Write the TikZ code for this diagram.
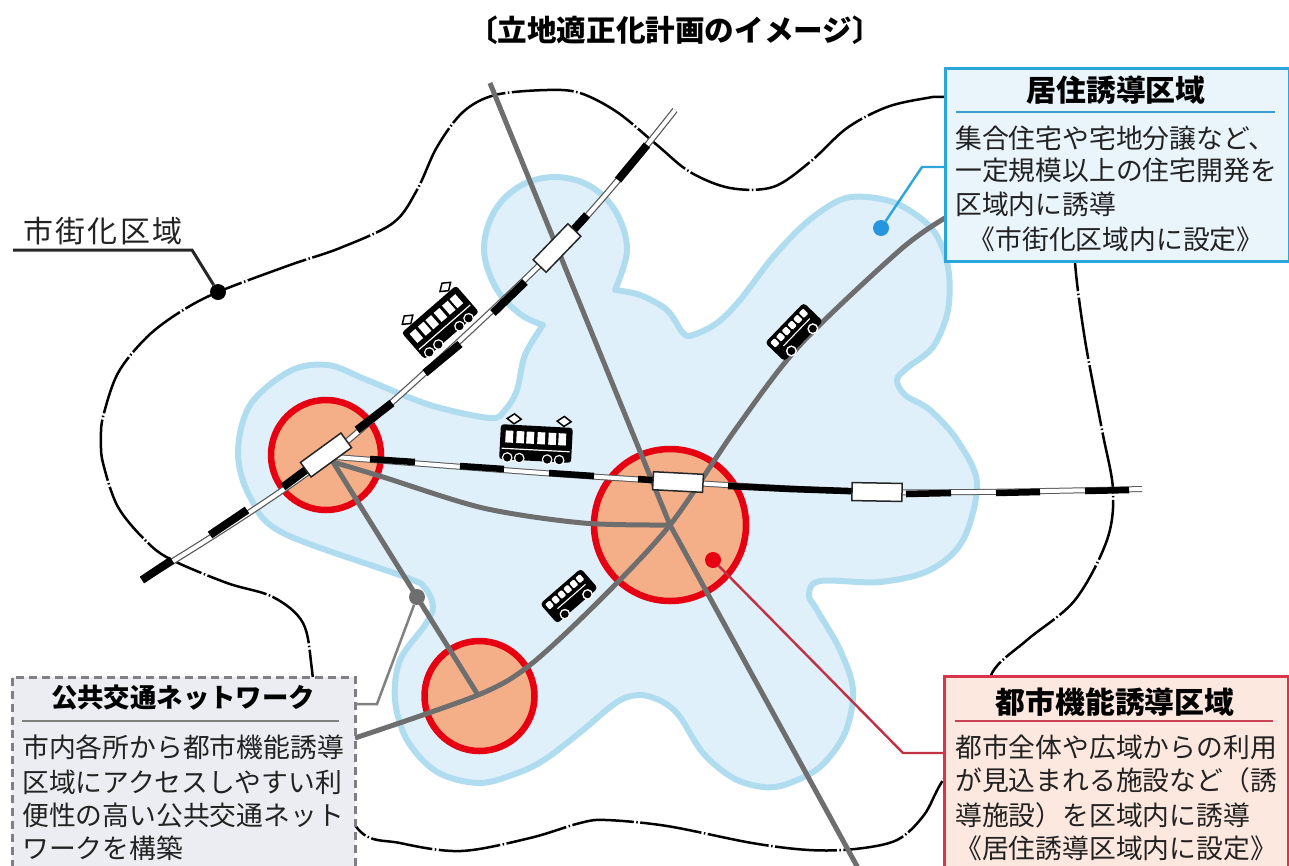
\documentclass[tikz,border=0pt]{standalone}
\usepackage{fontspec}
\newfontfamily\jp{Noto Sans CJK JP}
\usetikzlibrary{calc}
\definecolor{zonefill}{HTML}{DFF0FA}
\definecolor{zoneline}{HTML}{B0DCF0}
\definecolor{corefill}{HTML}{F4AE88}
\definecolor{corered}{HTML}{E60012}
\definecolor{busgray}{HTML}{6E6E6E}
\definecolor{ink}{HTML}{222222}
\definecolor{bluebd}{HTML}{2BA6DA}
\definecolor{bluebg}{HTML}{E9F4FB}
\definecolor{redbd}{HTML}{D9344A}
\definecolor{redbg}{HTML}{FCE8DF}
\definecolor{graybg}{HTML}{ECEDF2}
\tikzset{
  x=1pt,y=-1pt,
  outline/.style={draw=black,line width=2.5pt,dash pattern=on 62pt off 2.5pt on 1.5pt off 2.5pt},
  zone/.style={draw=zoneline,fill=zonefill,line width=6pt,line join=round},
  core/.style={circle,draw=corered,fill=corefill,line width=6.5pt,inner sep=0pt},
  busline/.style={draw=busgray,line width=5pt,line join=round},
  railout/.style={draw=black!65,line width=6.5pt},
  railin/.style={draw=white,line width=4pt},
  railblk/.style={draw=black,line width=8pt},
  railblkb/.style={draw=black,line width=6.5pt},
  stn/.style={draw=black!85,fill=white,line width=1.5pt,minimum width=50pt,minimum height=18pt,inner sep=0pt},
  dotmark/.style={circle,inner sep=0pt,minimum size=16pt},
  infobox/.style={line width=2.5pt,inner sep=0pt,minimum width=#1,anchor=north west},
  headtxt/.style={font=\jp\bfseries\fontsize{29.8}{32}\selectfont,text=black,inner sep=0pt},
  bodytxt/.style={font=\jp\fontsize{26.8}{30}\selectfont,text=ink,inner sep=0pt,anchor=west},
  bodymid/.style={font=\jp\fontsize{26.8}{30}\selectfont,text=ink,inner sep=0pt},
  tram/.pic={
    \fill[black,rounded corners=3pt] (-36,-17) rectangle (36,18);
    \foreach \wx in {-27,-16,-6,5,16,26}{\fill[white] (\wx-3.8,-11) rectangle (\wx+3.8,1);}
    \draw[white,line width=1.2pt] (-34,7) -- (34,7);
    \foreach \wx in {-28,-16,12,24}{\fill[white] (\wx,16) circle (5.4pt);\fill[black] (\wx,16) circle (4pt);}
    \foreach \wx in {-23,27}{\draw[black,fill=white,line width=1.5pt] (\wx-7,-23) -- (\wx,-28) -- (\wx+7,-23) -- (\wx,-18) -- cycle;}
  },
  bus/.pic={
    \fill[black,rounded corners=3.5pt] (-27,-13) rectangle (27,13);
    \foreach \wx in {-20.5,-12.5,-4.5,3.5,11.5,19.5}{\fill[white,rounded corners=1pt] (\wx-3,-9.5) rectangle (\wx+3,-2.5);}
    \draw[white,line width=1.1pt] (-17,2) -- (20,2);
    \foreach \wx in {-15,15}{\fill[white] (\wx,11) circle (5.4pt);\fill[black] (\wx,11) circle (3.8pt);}
  }
}
\begin{document}
\begin{tikzpicture}
\useasboundingbox (0,0) rectangle (1289,865);
\clip (0,0) rectangle (1289,865);
\fill[white] (0,0) rectangle (1289,865);

% city-area outline
\draw[outline] plot[smooth cycle,tension=.55] coordinates {(945,97) (927,98) (887,107) (847,128) (810,162) (773,187) (730,188) (690,172) (657,145) (617,112) (580,93) (547,90) (495,95) (463,112) (437,147) (417,190) (393,223) (340,248) (290,265) (218,292) (180,312) (147,337) (118,373) (103,417) (101,440) (103,463) (118,507) (147,542) (172,560) (227,583) (273,597) (303,623) (312,670) (320,750) (358,829) (400,843) (461,851) (530,838) (580,823) (606,820) (667,826) (752,843) (809,850) (855,849) (897,840) (924,815) (943,780) (985,720) (992,673) (1027,640) (1075,600) (1107,540) (1113,490) (1102,430) (1085,340) (1075,262) (1075,200) (1020,100)};

% residential zone
\draw[zone] plot[smooth,tension=.6] coordinates {(543,325) (520,314) (496,288) (484,250) (494,212) (520,186) (555,177) (590,186) (616,212) (627,250) (615,290)}
  -- plot[smooth,tension=.55] coordinates {(615,290) (640,295) (667,310) (683,333) (693,335) (717,323) (740,300) (773,257) (807,222) (840,200) (867,197) (900,205) (933,230) (948,267) (948,310) (933,347) (907,368) (897,380) (905,395) (930,410) (957,440) (977,483) (963,540) (930,570) (880,582) (820,581) (809,595) (817,610) (840,650) (853,690) (845,733) (820,767) (787,784) (763,787) (733,778) (703,753) (680,717) (663,702) (640,695) (617,702) (583,730) (547,758) (520,772) (480,783) (437,772) (407,740) (395,700) (400,660) (425,625) (433,607) (425,588) (405,577) (283,533) (250,497) (238,453) (250,405) (290,371) (328,365) (367,380) (430,405) (490,418) (505,410) (517,390) (525,355) (543,325)} -- cycle;

% core zones
\node[core,minimum size=110pt] (c1) at (326,455) {};
\node[core,minimum size=152pt] (c2) at (670,525) {};
\node[core,minimum size=110pt] (c3) at (479.5,696) {};

% bus network
\coordinate (hub) at (670,525);
\coordinate (hubw) at (333,462);
\coordinate (north) at (490,83);
\coordinate (south) at (858,868);
\coordinate (ghub) at (478,695);
\draw[busline] (north) -- (hub) -- (south);
\draw[busline] plot[smooth,tension=.5] coordinates {(945,218) (900,250) (800,345) (735,430) (670,525) (600,600) (530,665) (478,695) (355,738)};
\draw[busline] plot[smooth,tension=.5] coordinates {(333,462) (383,477) (483,508) (583,523) (670,525)};
\draw[busline] (hubw) -- (ghub);

% railway lines
\draw[railout] plot[smooth,tension=.5] coordinates {(142,580) (328,457) (557,248) (675,110)};
\draw[railin] plot[smooth,tension=.5] coordinates {(142,580) (328,457) (557,248) (675,110)};
\draw[railblk] (142,580) -- (172,560);
\draw[railblk] (210,535) -- (247,510);
\draw[railblk] (283,487) -- (326,455);
\draw[railblk] (357,430) -- (392,403);
\draw[railblk] (425,373) -- (460,344);
\draw[railblk] (493,313) -- (525,282);
\draw[railblk] (557,248) -- (587,215);
\draw[railblk] (618,180) -- (647,145);
\draw[railout,line width=6pt] plot[smooth,tension=.5] coordinates {(335,457) (600,477) (877,492) (1142,489)};
\draw[railin] plot[smooth,tension=.5] coordinates {(335,457) (600,477) (877,492) (1142,489)};
\draw[railblkb] (370,459) -- (415,462);
\draw[railblkb] (460,466) -- (504,469);
\draw[railblkb] (549,473) -- (594,476);
\draw[railblkb] (638,479) -- (678,482);
\draw[railblkb] (728,486) -- (790,489) -- (877,492);
\draw[railblkb] (906,494) -- (951,493);
\draw[railblkb] (996,493) -- (1040,492);
\draw[railblkb] (1085,491) -- (1129,490);

% stations
\node[stn,rotate=36] (s1) at (326,455) {};
\node[stn,rotate=46] (s2) at (557,248) {};
\node[stn,rotate=-3] (s3) at (678,482) {};
\node[stn,rotate=-1] (s4) at (877,492) {};

% vehicles
\pic[rotate=-3] at (536,443) {tram};
\pic[rotate=41] at (440,322) {tram};
\pic[rotate=46,scale=1.03] at (794,332) {bus};
\pic[rotate=41] at (569,596) {bus};

% markers
\node[dotmark,fill=black] (dcity) at (218,292) {};
\node[dotmark,fill=busgray] (dbus) at (417,597) {};
\node[dotmark,fill=bluebd!90!blue] (dres) at (881,228) {};
\node[dotmark,fill=corered] (dcore) at (713,560) {};

% boxes
\node[infobox=344pt,draw=bluebd,fill=bluebg,minimum height=193pt] (bluebox) at (944,67) {};
\node[infobox=344pt,draw=redbd,fill=redbg,minimum height=210pt] (redbox) at (943,675) {};
\node[infobox=343pt,draw=gray,fill=graybg,minimum height=210pt,dash pattern=on 8pt off 5pt] (graybox) at (11,676) {};

% leaders
\coordinate (elbres) at (922,167);
\coordinate (elbcore) at (903,753);
\coordinate (elbbus) at (377,704);
\coordinate (cityL) at (13,250);
\coordinate (cityR) at (192,250);
\draw[bluebd,line width=2.4pt] (dres) -- (elbres) -- (bluebox.west |- elbres);
\draw[redbd!90!black,line width=2.4pt] (dcore) -- (elbcore) -- (redbox.west |- elbcore);
\draw[gray,line width=2.5pt] (dbus) -- (elbbus) -- (graybox.east |- elbbus);
\draw[black!85,line width=3pt] (cityL) -- (cityR) -- (dcity);

% texts
\node[inner sep=0pt,font=\jp\bfseries\fontsize{29.6}{32}\selectfont,text=black] (ttl) at (675,30) {〔立地適正化計画のイメージ〕};
\node[inner sep=0pt,font=\jp\fontsize{30}{32}\selectfont,text=ink] (citylbl) at (103,231) {\addfontfeature{LetterSpace=7}市街化区域};

\node[headtxt] (h1) at (1116,90) {居住誘導区域};
\coordinate (r1a) at (956,112); \coordinate (r1b) at (1275,112);
\draw[bluebd!85!gray,line width=1.5pt] (r1a) -- (r1b);
\node[bodytxt] (b11) at (955,138) {集合住宅や宅地分譲など、};
\node[bodytxt] (b12) at (955,170) {一定規模以上の住宅開発を};
\node[bodytxt] (b13) at (955,204) {区域内に誘導};
\node[bodymid] (b14) at (1116,239) {《市街化区域内に設定》};

\node[headtxt] (h2) at (1115,702) {都市機能誘導区域};
\coordinate (r2a) at (955,721); \coordinate (r2b) at (1273,721);
\draw[redbd!80!gray,line width=1.5pt] (r2a) -- (r2b);
\node[bodytxt] (b21) at (955,747) {都市全体や広域からの利用};
\node[bodytxt] (b22) at (955,780) {が見込まれる施設など（誘};
\node[bodytxt] (b23) at (955,815) {導施設）を区域内に誘導};
\node[bodymid] (b24) at (1116,848) {《居住誘導区域内に設定》};

\node[headtxt,font=\jp\bfseries\fontsize{26.4}{30}\selectfont] (h3) at (183,698) {公共交通ネットワーク};
\coordinate (r3a) at (22,721); \coordinate (r3b) at (339,721);
\draw[gray,line width=1.5pt] (r3a) -- (r3b);
\node[bodytxt] (b31) at (22,747) {市内各所から都市機能誘導};
\node[bodytxt] (b32) at (22,782) {区域にアクセスしやすい利};
\node[bodytxt] (b33) at (22,815) {便性の高い公共交通ネット};
\node[bodytxt] (b34) at (22,848) {ワークを構築};
\end{tikzpicture}
\end{document}
